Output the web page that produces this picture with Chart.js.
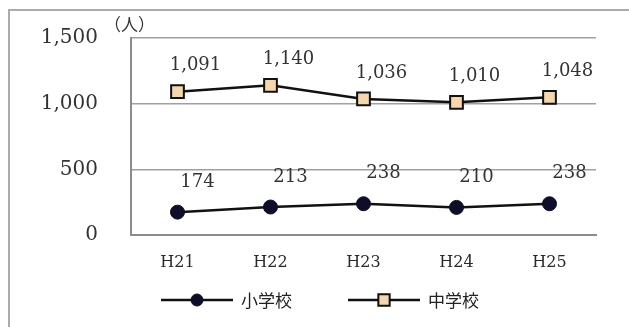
<!DOCTYPE html>
<html>
<head>
<meta charset="utf-8">
<script src="https://cdn.jsdelivr.net/npm/chart.js@4/dist/chart.umd.min.js"></script>
<style>
  html, body { margin: 0; padding: 0; background: #ffffff; }
  #wrap { width: 629px; height: 327px; }
</style>
</head>
<body>
<div id="wrap"><canvas id="c" width="629" height="327"></canvas></div>
<script>
// 年度別の児童・生徒数
const categories = ['H21', 'H22', 'H23', 'H24', 'H25'];
const elementary = [174, 213, 238, 210, 238];     // 小学校
const juniorHigh = [1091, 1140, 1036, 1010, 1048]; // 中学校
const yTicks = [0, 500, 1000, 1500];
const seriesNames = ['小学校', '中学校'];
const unitLabel = '（人）';

const fmt = v => v.toLocaleString('en-US');
const SERIF = '"DejaVu Serif", "Liberation Serif", serif';
const GOTHIC = '"Noto Sans CJK JP", "Noto Sans", sans-serif';

// outer frame (left and top edges)
const framePlugin = {
  id: 'frame',
  beforeDraw(chart) {
    const ctx = chart.ctx;
    ctx.save();
    ctx.strokeStyle = '#ababab';
    ctx.lineWidth = 2;
    ctx.beginPath();
    ctx.moveTo(9, 327);
    ctx.lineTo(9, 10);
    ctx.lineTo(629, 10);
    ctx.stroke();
    ctx.restore();
  }
};

// value labels above each point
const valueLabels = {
  id: 'valueLabels',
  afterDatasetsDraw(chart) {
    const ctx = chart.ctx;
    ctx.save();
    ctx.font = '18px ' + SERIF;
    ctx.fillStyle = '#333333';
    ctx.textAlign = 'center';
    ctx.textBaseline = 'middle';
    chart.data.datasets.forEach((ds, di) => {
      const meta = chart.getDatasetMeta(di);
      const off = ds.labelOffset;
      meta.data.forEach((pt, i) => {
        ctx.fillText(fmt(ds.data[i]), pt.x + off.dx, pt.y + off.dy);
      });
    });
    ctx.restore();
  }
};

// unit caption and legend
const extras = {
  id: 'extras',
  afterDraw(chart) {
    const ctx = chart.ctx;
    const area = chart.chartArea;
    ctx.save();
    ctx.fillStyle = '#333333';
    ctx.font = '17px ' + GOTHIC;
    ctx.textAlign = 'left';
    ctx.textBaseline = 'middle';
    ctx.fillText(unitLabel, area.left - 27, 25);

    // legend
    const lineLen = 72, textGap = 8, itemGap = 56, y = 300;
    ctx.font = '17px ' + GOTHIC;
    const widths = chart.data.datasets.map(ds => lineLen + textGap + ctx.measureText(ds.label).width);
    const total = widths.reduce((a, b) => a + b, 0) + itemGap * (widths.length - 1);
    let x = 320 - total / 2;
    chart.data.datasets.forEach((ds, i) => {
      ctx.strokeStyle = ds.borderColor;
      ctx.lineWidth = 2.5;
      ctx.beginPath();
      ctx.moveTo(x, y);
      ctx.lineTo(x + lineLen, y);
      ctx.stroke();
      ctx.fillStyle = ds.pointBackgroundColor;
      ctx.strokeStyle = ds.pointBorderColor;
      ctx.lineWidth = ds.pointBorderWidth;
      Chart.helpers.drawPoint(ctx, {
        pointStyle: ds.pointStyle,
        radius: ds.pointRadius - 1,
        borderWidth: ds.pointBorderWidth,
        rotation: 0
      }, x + lineLen / 2, y);
      ctx.fillStyle = '#222222';
      ctx.fillText(ds.label, x + lineLen + textGap, y + 1);
      x += widths[i] + itemGap;
    });
    ctx.restore();
  }
};

new Chart(document.getElementById('c'), {
  type: 'line',
  data: {
    labels: categories,
    datasets: [
      {
        label: seriesNames[0],
        data: elementary,
        borderColor: '#111111',
        borderWidth: 2.5,
        tension: 0,
        pointStyle: 'circle',
        pointRadius: 7,
        pointBackgroundColor: '#0e0e2a',
        pointBorderColor: '#0e0e2a',
        pointBorderWidth: 1,
        labelOffset: { dx: 20, dy: -30 }
      },
      {
        label: seriesNames[1],
        data: juniorHigh,
        borderColor: '#111111',
        borderWidth: 2.5,
        tension: 0,
        pointStyle: 'rect',
        pointRadius: 9,
        pointBackgroundColor: '#f5d6ad',
        pointBorderColor: '#111111',
        pointBorderWidth: 2,
        labelOffset: { dx: 18, dy: -26 }
      }
    ]
  },
  options: {
    responsive: false,
    devicePixelRatio: 1,
    animation: false,
    layout: { padding: { left: 0, right: 33, top: 38, bottom: 0 } },
    plugins: {
      legend: { display: false },
      tooltip: { enabled: false }
    },
    scales: {
      x: {
        offset: true,
        grid: { display: false },
        border: { display: true, color: '#8c8c8c', width: 2 },
        ticks: {
          padding: 10,
          color: '#2a2a2a',
          font: { family: SERIF, size: 16 }
        },
        afterFit(scale) { scale.height = 92; }
      },
      y: {
        min: yTicks[0],
        max: yTicks[yTicks.length - 1],
        afterBuildTicks(scale) { scale.ticks = yTicks.map(v => ({ value: v })); },
        grid: {
          color: '#a0a0a0',
          lineWidth: 1.5,
          drawTicks: true,
          tickLength: 33,
          tickColor: 'rgba(0,0,0,0)'
        },
        border: { display: true, color: '#8c8c8c', width: 2 },
        ticks: {
          padding: 0,
          color: '#333333',
          font: { family: SERIF, size: 20 },
          callback: v => fmt(v)
        },
        afterFit(scale) { scale.width = 131; }
      }
    }
  },
  plugins: [framePlugin, valueLabels, extras]
});
</script>
</body>
</html>
